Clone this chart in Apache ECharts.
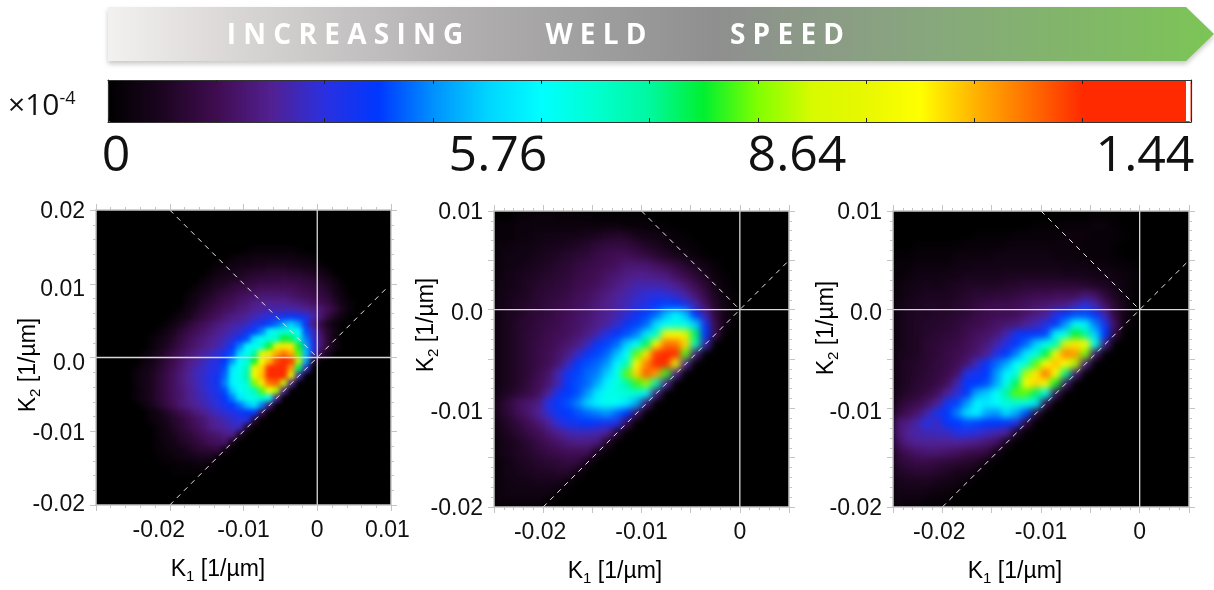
<!DOCTYPE html>
<html><head><meta charset="utf-8">
<style>
html,body{margin:0;padding:0;background:#fff;width:1214px;height:590px;overflow:hidden}
#main{position:absolute;left:0;top:0;width:1214px;height:590px;z-index:5}
.clip{position:absolute;overflow:hidden;background:#000;z-index:1}
.heat{position:absolute;left:0;top:0;width:100%;height:100%}
</style>
<script src="https://cdn.jsdelivr.net/npm/echarts@6/dist/echarts.min.js"></script>
</head><body>
<div class="clip" style="left:96px;top:210px;width:295px;height:295px"><div class="heat" id="h0" style="filter:blur(2.5px)"></div></div>
<div class="clip" style="left:494px;top:211px;width:295px;height:296px"><div class="heat" id="h1" style="filter:blur(3.5px)"></div></div>
<div class="clip" style="left:893px;top:211px;width:296px;height:296px"><div class="heat" id="h2" style="filter:blur(3.5px)"></div></div>
<div id="main"></div>
<script>
// Density in units of 1e-6. Each row is one K2 band (top to bottom);
// first number = count of empty K1 cells at the left, the rest = cell values. Cells are 0.001 wide.
const heatRowsA = [
[0],[0],[0],[0],[0],
[20,1,2,2,2,2,2,2,1],
[18,2,3,3,4,4,4,4,4,4,3,3,2],
[16,2,3,4,5,5,6,6,7,7,7,6,6,5,4,2],
[15,2,4,5,6,7,8,9,9,10,10,10,9,9,8,7,5,3],
[14,2,4,6,7,8,9,10,11,12,12,12,13,12,12,11,10,8,6,3],
[13,2,4,6,8,9,11,12,13,14,15,15,15,15,15,14,13,12,10,8,5,2],
[12,2,4,6,8,10,12,13,15,16,17,18,18,18,18,17,16,15,14,12,10,6,3],
[12,3,5,8,10,12,14,15,17,18,20,21,21,21,21,20,19,18,16,14,12,8,4,2],
[11,2,5,7,10,12,14,16,17,19,20,22,23,24,24,24,24,23,22,20,18,15,11,6,2],
[10,2,4,6,9,12,14,16,18,20,21,23,25,27,29,31,33,34,34,30,24,18,12,7,3],
[9,2,4,7,10,13,15,17,19,21,23,24,26,30,33,37,40,46,50,44,33,20,12,7,3],
[8,2,4,7,10,13,15,17,19,21,23,25,27,33,37,42,56,62,64,64,58,38,26,16,9,4],
[7,2,4,6,9,12,15,17,19,21,23,25,28,35,38,52,60,62,66,80,76,64,42,28,18,10,4],
[7,2,5,7,10,13,16,18,20,22,24,27,35,42,56,60,64,80,100,110,110,80,46,30,18,10,4],
[6,2,4,7,10,13,16,18,20,23,25,28,33,38,52,60,72,94,110,116,122,116,84,48,28,14,6],
[6,3,5,8,11,14,17,20,22,25,28,30,36,44,58,62,80,108,114,126,134,128,92,46,10],
[5,2,4,6,9,12,15,18,21,24,26,29,31,38,54,60,68,100,112,130,136,136,118,76,26],
[5,3,5,7,10,13,16,19,22,25,27,30,33,40,56,60,70,104,114,132,136,130,96,24],
[5,3,5,7,10,13,16,19,22,24,27,30,33,42,56,60,64,86,110,122,124,92,22],
[5,2,5,7,10,13,16,18,21,24,26,29,32,38,50,58,62,68,84,106,90,22],
[5,3,5,7,10,13,16,18,21,23,25,28,30,36,42,54,60,62,66,60,22],
[6,3,6,9,12,15,18,20,22,24,26,29,32,36,40,48,52,42,18],
[7,3,5,8,11,14,16,19,21,24,26,28,30,33,35,34,14],
[7,3,4,6,9,11,14,16,18,21,23,25,27,29,29,10],
[8,3,5,8,10,13,15,17,20,22,23,25,25,9],
[8,3,4,6,9,10,13,15,17,18,20,21,8],
[8,2,4,5,8,9,11,13,15,16,17,6],
[8,2,3,4,5,7,9,10,11,12,5],
[8,1,2,3,4,5,6,7,7,3],
[9,1,1,2,2,3,3,2],
[10,1,1,1,1,1],
[0],[0],[0],[0]
];
const heatRowsB = [
[2,2,2,3,3,2,2,2,2,1,1,1,1,1,1],
[0,2,2,3,3,3,3,3,3,3,3,3,3,3,2,2,2,1,1],
[0,2,2,3,3,4,4,5,5,5,6,7,8,9,8,6,5,4,3,2,1],
[0,3,3,4,4,5,6,6,7,8,9,11,12,12,12,10,8,7,5,3,2,1],
[0,3,4,4,5,6,7,8,9,10,11,13,14,15,15,14,12,10,8,6,4,2,1],
[0,3,4,5,6,7,8,9,10,12,13,14,15,16,18,18,18,16,14,12,9,7,4,2],
[0,3,5,6,7,8,9,10,11,13,14,15,17,18,20,21,21,20,19,16,13,10,7,3,1],
[0,4,5,6,8,9,10,11,12,14,15,16,18,20,22,24,24,24,23,21,18,14,10,5,2],
[0,4,6,7,8,10,11,12,13,15,16,18,20,22,24,26,28,29,28,26,23,18,13,7,3,1],
[0,5,6,8,9,10,12,13,14,16,17,19,21,23,25,28,30,35,37,36,31,24,16,9,4,1],
[0,5,7,8,10,11,12,14,15,17,18,20,22,24,27,33,37,40,48,56,48,36,24,12,5,1],
[0,5,7,9,10,12,13,14,16,17,19,21,23,27,34,37,40,52,58,62,60,50,32,14,5],
[0,5,7,9,11,12,14,15,16,18,20,24,30,35,38,42,54,66,104,106,96,76,36,14],
[0,5,7,9,11,13,14,16,18,20,25,34,37,40,50,58,76,106,122,122,112,70,24],
[0,5,7,9,11,13,15,17,20,26,34,37,40,48,58,84,110,128,134,130,84,20],
[0,5,7,9,11,13,15,18,25,35,38,40,44,56,68,106,120,134,130,100,22],
[0,5,7,9,11,14,17,24,33,37,40,42,50,60,84,112,124,118,82,22],
[0,5,7,9,12,15,18,24,35,38,40,46,56,62,70,82,88,70,22],
[0,6,8,11,13,16,22,32,36,38,44,54,60,62,64,64,56,20],
[0,8,12,16,18,20,30,35,38,42,50,56,60,58,54,46,18],
[0,8,11,15,18,22,27,34,36,38,40,42,44,40,36,16],
[0,6,9,12,15,18,22,28,32,34,36,34,32,30,14],
[0,5,8,10,13,15,18,21,24,25,25,24,22,10],
[0,4,6,8,10,13,15,17,19,20,20,19,8],
[0,4,6,8,9,11,13,14,15,15,15,6],
[0,3,5,7,8,9,10,11,12,12,5],
[0,3,5,6,7,8,8,9,9,4],
[0,3,4,5,5,6,6,6,3],
[0,3,4,4,4,4,4,2],
[0,3,3,3,3,3,1]
];
const heatRowsC = [
[20,1,1,1],
[14,1,1,1,2,2,2,3,3,1],
[8,1,1,1,1,2,2,2,2,2,3,3,3,2,2,2,1],
[2,1,1,1,1,1,2,2,2,2,3,3,3,3,3,3,3,3,2,2,2,1],
[0,1,1,2,2,2,2,3,3,3,3,4,4,4,4,4,4,3,3,3,2,2,2,1],
[0,2,2,3,3,3,3,4,4,5,5,5,5,5,5,5,5,5,4,4,4,3,3,2,2,1],
[0,2,3,4,4,4,5,5,6,6,6,6,7,7,7,7,7,7,6,6,6,5,5,4,3,2],
[0,3,4,5,6,5,6,7,8,8,8,8,9,9,10,10,10,10,10,10,9,8,7,5,3,1],
[0,3,5,6,7,7,7,8,9,10,10,11,11,12,13,14,14,15,15,15,18,16,11,7,4,1],
[0,4,6,7,8,8,8,9,10,12,13,14,14,15,16,17,18,19,20,24,28,24,16,10,5,1],
[0,5,7,8,8,9,9,10,11,13,14,15,15,16,18,20,22,30,35,38,38,34,24,12,5,1],
[0,5,7,8,9,9,10,11,13,14,15,17,18,19,22,25,30,35,44,58,56,42,32,16,4],
[0,5,7,8,9,10,11,12,14,16,17,19,24,33,35,35,37,56,62,80,72,50,36,12],
[0,5,7,8,10,11,12,13,15,17,19,24,30,35,40,50,60,70,96,110,106,62,20],
[0,6,7,8,10,11,13,14,16,18,22,30,36,42,54,62,78,104,120,118,86,18],
[0,6,8,9,10,12,13,15,18,26,35,40,46,58,64,84,108,114,108,90,20],
[0,6,8,9,11,12,14,17,30,33,36,44,56,62,90,110,122,108,74,20],
[0,6,8,10,11,13,16,24,36,36,38,46,60,76,106,112,104,80,18],
[0,7,9,11,13,16,22,28,35,46,50,58,72,84,84,76,60,16],
[0,9,12,14,17,22,33,37,44,56,54,58,62,64,62,54,14],
[0,12,15,18,24,32,36,42,52,56,46,44,52,46,38,12],
[0,18,20,24,30,26,35,36,38,37,36,36,35,30,12],
[0,18,22,24,25,26,26,30,30,28,26,24,22,8],
[0,16,20,22,22,22,22,22,21,20,18,16,6],
[0,12,15,17,18,18,17,16,14,13,12,5],
[0,10,12,13,13,12,11,10,9,8,3],
[0,8,9,10,10,9,8,6,6,3],
[0,6,7,7,7,6,5,4,2],
[0,5,5,5,4,3,3,1],
[0,4,3,3,2,2,1]
];
const colormap = ['#000000','#1c0520','#3f0c50','#522090','#2a30e0','#0038ff','#0090ff','#00d4ff','#00ffff','#00ffd0','#00f8a0','#00f030','#80ff00','#d8fa00','#e8f800','#ffff00','#ffb400','#ff7000','#ff2a00','#ff2a00','#ff2a00'];
const colorMax = 144;
const barLabels = ['0','5.76','8.64','1.44'];
const titleWords = ['I N C R E A S I N G','W E L D','S P E E D'];
const k1LimitsA = [-0.03,0.01], k1LimitsB = [-0.025,0.005];
const k2LimitsA = [-0.02,0.02], k2LimitsB = [-0.02,0.01];
const k2TickLabels = {'20':'0.02','10':'0.01','0':'0.0','-10':'-0.01','-20':'-0.02'};
const k1TickLabels = {'-20':'-0.02','-10':'-0.01','0':'0','10':'0.01'};
const lowerDiagA = [[-0.02,-0.02],[0.0097,0.0097]], upperDiagA = [[-0.02,0.02],[0,0]];
const lowerDiagB = [[-0.02,-0.02],[0.005,0.005]], upperDiagB = [[-0.01,0.01],[0,0]];

function cells(rows){
  const out=[];
  rows.forEach((r,i)=>{ const lead=r[0]; r.slice(1).forEach((v,j)=>out.push([lead+j,i,v])); });
  return out;
}
[[ 'h0',heatRowsA,40,40],['h1',heatRowsB,30,30],['h2',heatRowsC,30,30]].forEach(p=>{
  const c=echarts.init(document.getElementById(p[0]),null,{renderer:'canvas'});
  c.setOption({animation:false,
    grid:{left:0,right:0,top:0,bottom:0},
    xAxis:{type:'category',show:false,data:Array.from({length:p[2]},(_,i)=>i)},
    yAxis:{type:'category',show:false,inverse:true,data:Array.from({length:p[3]},(_,i)=>i)},
    visualMap:{show:false,min:0,max:colorMax,inRange:{color:colormap},seriesIndex:0},
    series:[{type:'heatmap',data:cells(p[1]),progressive:0,itemStyle:{borderWidth:0}}]
  });
});

const gridsPx=[{left:96,top:210,width:295,height:295},{left:494,top:211,width:295,height:296},{left:893,top:211,width:296,height:296}];
const AX='#c4c4c4';
const baseFont={fontFamily:'Liberation Sans',fontSize:23,color:'#111'};
// label nudges: shift = padding/2 in the given direction (labels in the reference sit off their ticks)
function richSet(){return {
  n:{...baseFont},
  d2:{...baseFont,padding:[4,0,0,0]},
  d3:{...baseFont,padding:[7,0,0,0]},
  d4:{...baseFont,padding:[8,0,0,0]},
  d6:{...baseFont,padding:[12,0,0,0]},
  l11:{...baseFont,padding:[0,22,0,0]},
  l4:{...baseFont,padding:[0,7,0,0]},
  l3:{...baseFont,padding:[0,6,0,0]}
};}
function fmt(map,nudge){return v=>{const k=String(Math.round(v*1000));if(map[k]===undefined)return '';return '{'+(nudge[k]||'n')+'|'+map[k]+'}';};}
function axis(ix,lim,step,pos,labels,margin,nudge){
  return {type:'value',gridIndex:ix,min:lim[0],max:lim[1],interval:step,position:pos,z:10,
    axisLine:{show:true,onZero:false,lineStyle:{color:AX,width:1.5}},
    axisTick:{show:true,length:6,lineStyle:{color:AX,width:1}},
    minorTick:{show:true,splitNumber:5,length:3,lineStyle:{color:AX,width:1}},
    splitLine:{show:false},
    axisLabel:labels?{show:true,margin:margin,formatter:fmt(labels,nudge),hideOverlap:false,showMinLabel:true,showMaxLabel:true,...baseFont,rich:richSet()}:{show:false}};
}
const xAxes=[],yAxes=[],series=[];
const panelDefs=[
 [k1LimitsA,k2LimitsA,0.01,lowerDiagA,upperDiagA,{'-20':'l11','10':'l4'},{'20':'d2','10':'d6','0':'d6','-10':'d2'}],
 [k1LimitsB,k2LimitsB,0.005,lowerDiagB,upperDiagB,{'-20':'l3'},{'0':'d3','-10':'d4','-20':'d2','10':'d2'}],
 [k1LimitsB,k2LimitsB,0.005,lowerDiagB,upperDiagB,{'-20':'l3'},{'0':'d3','-10':'d4','-20':'d2','10':'d2'}]];
panelDefs.forEach((d,ix)=>{
  xAxes.push(axis(ix,d[0],d[2],'bottom',k1TickLabels,14,d[5]),axis(ix,d[0],d[2],'top',null));
  yAxes.push(axis(ix,d[1],d[2],'left',k2TickLabels,11,d[6]),axis(ix,d[1],d[2],'right',null));
  const xi=ix*2, yi=ix*2;
  const solid={color:'#d8d8d8',width:1.3}, dash={color:'#e8e8e8',width:1,type:[5,5]};
  const add=(data,style)=>series.push({type:'line',xAxisIndex:xi,yAxisIndex:yi,data,symbol:'none',silent:true,lineStyle:style,z:5});
  add([[d[0][0],0],[d[0][1],0]],solid);
  add([[0,d[1][0]],[0,d[1][1]]],solid);
  add(d[3],dash);
  add(d[4],dash);
});
const barIx=3;
const barGrid={left:108,top:80,width:1083,height:42};
function barX(pos){return {type:'value',gridIndex:barIx,min:0,max:10,interval:1,position:pos,z:10,
  axisLine:{show:true,onZero:false,lineStyle:{color:'#333',width:1.2}},
  axisTick:{show:true,inside:true,length:4,lineStyle:{color:'#222',width:1}},
  axisLabel:{show:false},splitLine:{show:false}};}
function barY(pos){return {type:'value',gridIndex:barIx,min:0,max:1,position:pos,z:10,
  axisLine:{show:true,onZero:false,lineStyle:{color:'#333',width:1.2}},
  axisTick:{show:false},axisLabel:{show:false},splitLine:{show:false}};}
xAxes.push(barX('bottom'),barX('top'));
yAxes.push(barY('left'),barY('right'));

function axisTitle(x,y,sub,rot){
  return {type:'text',x,y,rotation:rot?Math.PI/2:0,z:20,
    style:{text:'{a|K}{s|'+sub+'}{a| [1/µm]}',align:'center',verticalAlign:'middle',
      rich:{a:{fontFamily:'Liberation Sans',fontSize:23,color:'#222',lineHeight:28,verticalAlign:'middle'},
            s:{fontFamily:'Liberation Sans',fontSize:15,color:'#222',lineHeight:14,verticalAlign:'bottom'}}}};
}
function barLabel(t,x){return {type:'text',x,y:157,z:20,style:{text:t,align:'center',verticalAlign:'middle',fontFamily:'Open Sans',fontSize:50,fill:'#111'}};}
function word(t,x){return {type:'text',x,y:36,z:22,style:{text:t,align:'center',verticalAlign:'middle',fontFamily:'Open Sans',fontWeight:'bold',fontSize:28,fill:'#fff'}};}

const main=echarts.init(document.getElementById('main'),null,{renderer:'canvas'});
main.setOption({animation:false,backgroundColor:'transparent',
  grid:[...gridsPx,barGrid],xAxis:xAxes,yAxis:yAxes,series,
  visualMap:{type:'continuous',show:true,min:0,max:colorMax,orient:'horizontal',left:108,top:80,padding:0,
    itemWidth:42,itemHeight:1083,text:null,calculable:false,hoverLink:false,seriesIndex:[],z:4,
    inRange:{color:colormap}},
  graphic:{elements:[
    {type:'polygon',z:1,shape:{points:[[108,7],[1186,7],[1214,34],[1186,61],[108,61]]},
     style:{fill:new echarts.graphic.LinearGradient(0,0,1,0,[
       {offset:0,color:'#f3f1f0'},{offset:0.1,color:'#dcd9d8'},{offset:0.3,color:'#b4b2b3'},
       {offset:0.55,color:'#8f8f8f'},{offset:0.75,color:'#87a87c'},{offset:1,color:'#7cc556'}]),
       shadowBlur:5,shadowOffsetY:3,shadowColor:'rgba(0,0,0,0.22)'}},
    word(titleWords[0],345),word(titleWords[1],596),word(titleWords[2],787),
    {type:'rect',z:20,shape:{x:1186,y:81,width:4.5,height:40},style:{fill:'#fff'}},
    {type:'text',x:8,y:106,z:20,style:{text:'×10{s|-4}',align:'left',verticalAlign:'middle',fontFamily:'Open Sans',fontSize:30,fill:'#111',
       rich:{s:{fontFamily:'Open Sans',fontSize:18,fill:'#111',verticalAlign:'top',lineHeight:32}}}},
    barLabel(barLabels[0],116),barLabel(barLabels[1],498),barLabel(barLabels[2],797),barLabel(barLabels[3],1145),
    axisTitle(218,570,'1',false),axisTitle(615,572,'1',false),axisTitle(1015,572,'1',false),
    axisTitle(29,365,'2',true),axisTitle(427,325,'2',true),axisTitle(827,328,'2',true)
  ]}
});
</script>
</body></html>
